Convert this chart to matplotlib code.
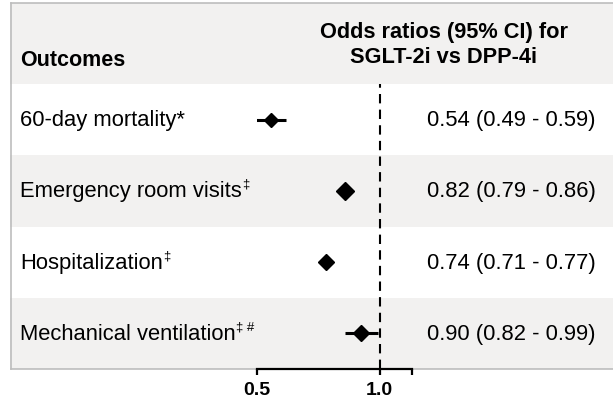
import matplotlib
matplotlib.use("Agg")
import matplotlib.pyplot as plt
from matplotlib.patches import Rectangle

# forest plot data
outcomes = ["60-day mortality*", "Emergency room visits", "Hospitalization", "Mechanical ventilation"]
marks = ["", "\u2021", "\u2021", "\u2021 #"]
odds = [0.54, 0.82, 0.74, 0.90]
lower = [0.49, 0.79, 0.71, 0.82]
upper = [0.59, 0.86, 0.77, 0.99]
box_size = [7.6, 9.0, 8.6, 8.0]
ticks = [0.5, 1.0, 1.2]
tick_labels = ["0.5", "1.0", ""]

plt.rcParams['font.family'] = ['Liberation Sans', 'DejaVu Sans']
GRAY = '#f2f1f0'
LINE = '#bdbdbd'

fig = plt.figure(figsize=(6.13, 4.06), dpi=100)

# background table, pixel coordinates
bg = fig.add_axes([0, 0, 1, 1])
bg.set_xlim(0, 613)
bg.set_ylim(406, 0)
bg.axis('off')

top, head, row_h = 4, 85, 71.25
bg.add_patch(Rectangle((10, top), 613, head - top, color=GRAY, lw=0))
for i in range(len(outcomes)):
    if i % 2 == 1:
        bg.add_patch(Rectangle((10, head + i * row_h), 613, row_h, color=GRAY, lw=0))
bottom = head + row_h * len(outcomes)
bg.plot([10.5, 613], [top, top], color=LINE, lw=1.2)
bg.plot([10.5, 10.5], [top, bottom], color=LINE, lw=1.2)
bg.plot([10.5, 613], [bottom, bottom], color=LINE, lw=1.2)

bg.text(20, 60, "Outcomes", fontsize=15.5, fontweight='bold', ha='left', va='center')
bg.text(444, 45, "Odds ratios (95% CI) for\nSGLT-2i vs DPP-4i", fontsize=15.7,
        fontweight='bold', ha='center', va='center', linespacing=1.3)

for i, name in enumerate(outcomes):
    yc = head + row_h * (i + 0.5)
    t = bg.text(20, yc, name, fontsize=15.8, ha='left', va='center')
    if marks[i]:
        bg.annotate(marks[i], xy=(1, 0.55), xycoords=t, fontsize=9.5, ha='left', va='bottom',
                    xytext=(0, 0), textcoords='offset points')
    bg.text(511, yc, f"{odds[i]:.2f} ({lower[i]:.2f} - {upper[i]:.2f})",
            fontsize=15.8, ha='center', va='center')

# forest panel
ax = fig.add_axes([257 / 613, (406 - bottom) / 406, 155 / 613, (bottom - head) / 406])
ax.set_xscale('log')
ax.set_xlim(0.5, 1.2)
ax.set_ylim(len(outcomes) + 0.5, 0.5)
ax.patch.set_visible(False)
for s in ['top', 'left', 'right']:
    ax.spines[s].set_visible(False)
ax.spines['bottom'].set_linewidth(1.6)

ax.axvline(1.0, color='black', lw=1.5, ls=(0, (4.5, 3)))
for i in range(len(outcomes)):
    y = i + 1
    ax.plot([lower[i], upper[i]], [y, y], color='black', lw=2.2, solid_capstyle='butt')
    ax.plot(odds[i], y, marker='D', color='black', markersize=box_size[i])

ax.set_yticks([])
ax.set_xticks(ticks)
ax.set_xticklabels(tick_labels, fontsize=14, fontweight='bold')
ax.xaxis.set_minor_locator(plt.NullLocator())
ax.tick_params(axis='x', direction='out', length=4.5, width=1.6, pad=4)

fig.savefig("out.png", dpi=100)
